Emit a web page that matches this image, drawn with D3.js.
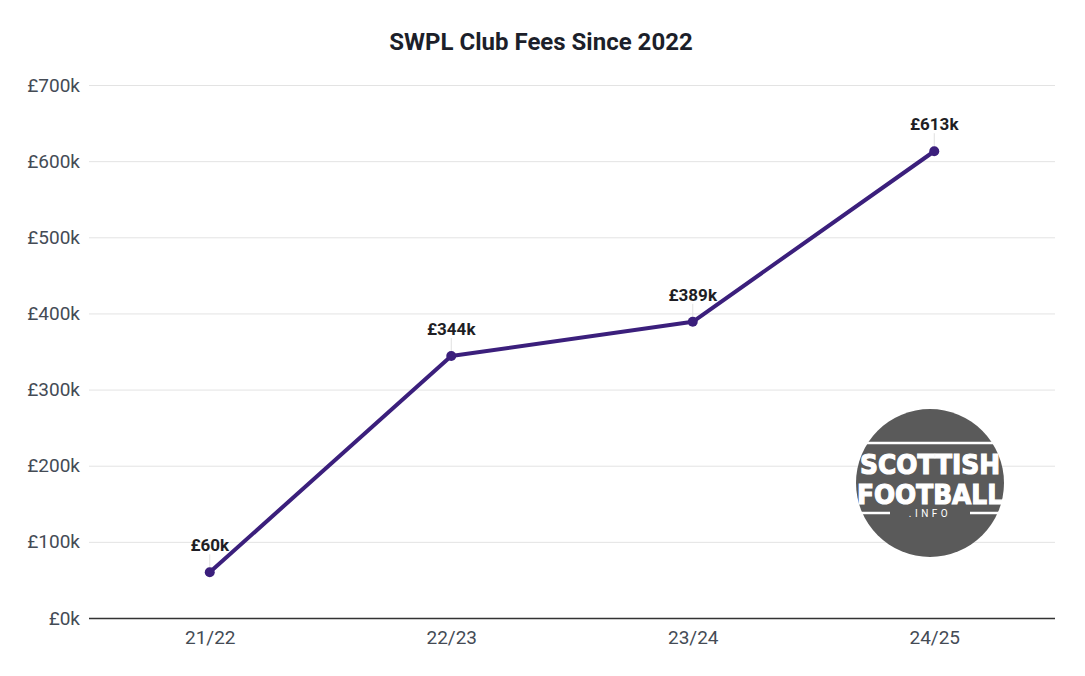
<!DOCTYPE html>
<html><head><meta charset="utf-8">
<script src="https://cdn.jsdelivr.net/npm/d3@7"></script>
<style>
body{margin:0;background:#fff;font-family:Roboto,"Open Sans",sans-serif;}
</style></head>
<body><svg id="c" width="1085" height="676"></svg>
<script>
const seasons = ["21/22","22/23","23/24","24/25"];
const fees = [60,344,389,613]; // £k
const yTicks = [0,100,200,300,400,500,600,700];
const title = "SWPL Club Fees Since 2022";

const svg = d3.select("#c");
const W=1085,H=676;
const m={left:89,right:30,top:85,bottom:58};
const x = d3.scalePoint().domain(seasons).range([m.left,W-m.right]).padding(0.5);
const y = d3.scaleLinear().domain([0,700]).range([H-m.bottom,m.top]);

svg.append("rect").attr("width",W).attr("height",H).attr("fill","#fff");

svg.append("text").attr("x",541).attr("y",50).attr("text-anchor","middle")
  .attr("font-size",24).attr("font-weight",700).attr("fill","#1c1f2a").text(title);

const yAxis = d3.axisLeft(y).tickValues(yTicks).tickSize(-(W-m.left-m.right)).tickPadding(9)
  .tickFormat(d=>"£"+d+"k");
const gy = svg.append("g").attr("transform",`translate(${m.left},0)`).call(yAxis);
gy.select(".domain").remove();
gy.selectAll(".tick line").attr("stroke","#e3e3e3").attr("stroke-width",1);
gy.selectAll(".tick text").attr("font-size",19).attr("fill","#444b55").attr("font-family","Roboto,sans-serif");
gy.selectAll(".tick").filter(d=>d===0).select("line").attr("stroke","#333").attr("stroke-width",1.3);

const xAxis = d3.axisBottom(x).tickSize(0).tickPadding(13);
const gx = svg.append("g").attr("transform",`translate(0,${H-m.bottom})`).call(xAxis);
gx.select(".domain").remove();
gx.selectAll(".tick text").attr("font-size",19).attr("fill","#444b55").attr("font-family","Roboto,sans-serif");

// logo
const lg = svg.append("g").attr("transform","translate(930,483)");
lg.append("circle").attr("r",74).attr("fill","#5a5a5a");
lg.append("line").attr("x1",-64).attr("x2",64).attr("y1",-40).attr("y2",-40).attr("stroke","#fff").attr("stroke-width",2.5);
lg.append("line").attr("x1",-70).attr("x2",-40).attr("y1",30).attr("y2",30).attr("stroke","#fff").attr("stroke-width",2.5);
lg.append("line").attr("x1",40).attr("x2",70).attr("y1",30).attr("y2",30).attr("stroke","#fff").attr("stroke-width",2.5);
lg.append("text").attr("y",-9).attr("text-anchor","middle").attr("font-size",27).attr("font-weight",900)
  .attr("font-family","'DejaVu Sans',sans-serif").attr("fill","#fff").attr("stroke","#fff").attr("stroke-width",1.2)
  .attr("textLength",140).attr("lengthAdjust","spacingAndGlyphs").text("SCOTTISH");
lg.append("text").attr("y",21).attr("text-anchor","middle").attr("font-size",27).attr("font-weight",900)
  .attr("font-family","'DejaVu Sans',sans-serif").attr("fill","#fff").attr("stroke","#fff").attr("stroke-width",1.2)
  .attr("textLength",146).attr("lengthAdjust","spacingAndGlyphs").text("FOOTBALL");
lg.append("text").attr("y",34).attr("text-anchor","middle").attr("font-size",10).attr("letter-spacing",3.5)
  .attr("fill","#fff").text(".INFO");

const data = seasons.map((s,i)=>({s,v:fees[i]}));
svg.selectAll(".lead").data(data).join("line")
  .attr("x1",d=>x(d.s)).attr("x2",d=>x(d.s)).attr("y1",d=>y(d.v)-18).attr("y2",d=>y(d.v)-4)
  .attr("stroke","#e0e0e0").attr("stroke-width",1);

const line = d3.line().x(d=>x(d.s)).y(d=>y(d.v));
svg.append("path").datum(data).attr("d",line).attr("fill","none")
  .attr("stroke","#3b1f7c").attr("stroke-width",4).attr("stroke-linejoin","round");
svg.selectAll(".pt").data(data).join("circle")
  .attr("cx",d=>x(d.s)).attr("cy",d=>y(d.v)).attr("r",5).attr("fill","#3b1f7c");

svg.selectAll(".lbl").data(data).join("text")
  .attr("x",d=>x(d.s)).attr("y",d=>y(d.v)-21).attr("text-anchor","middle")
  .attr("font-size",17).attr("font-weight",700).attr("fill","#1e1e24")
  .text(d=>"£"+d.v+"k");
</script></body></html>
